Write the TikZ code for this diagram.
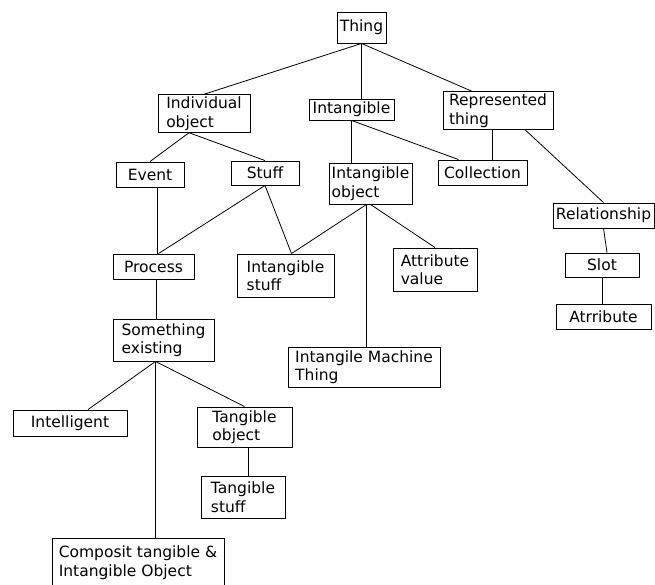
\documentclass[tikz,border=0pt]{standalone}
\usepackage{fontspec}
\setmainfont{DejaVu Sans}
\usetikzlibrary{calc,shapes,arrows}

\begin{document}
\begin{tikzpicture}[x=1pt,y=-1pt,
        box/.style={draw, rectangle, line width=0.9pt, inner sep=2pt, align=left,
            font=\fontsize{15.5}{18.5}\selectfont},
        link/.style={line width=0.8pt}]
        \useasboundingbox (0,0) rectangle (655,584);

        % top levels
        \node[box, minimum width=49pt,  minimum height=31pt] (thing)  at (361.5,27.5) {Thing};
        \node[box, minimum width=92pt,  minimum height=37pt] (indiv)  at (204,113.5)  {Individual\\object};
        \node[box, minimum width=85pt,  minimum height=21pt] (intang) at (351.5,109.5) {Intangible};
        \node[box, minimum width=110pt, minimum height=35pt] (repr)   at (498,110.5)  {Represented\\thing};
        \node[box, minimum width=68pt,  minimum height=25pt] (event)  at (150,174.5)  {Event};
        \node[box, minimum width=68pt,  minimum height=24pt] (stuff)  at (265,173)    {Stuff};
        \node[box, minimum width=83pt,  minimum height=41pt] (intobj) at (370.5,183.5) {Intangible\\object};
        \node[box, minimum width=89pt,  minimum height=25pt] (coll)   at (482.5,172.5) {Collection};
        \node[box, minimum width=101pt, minimum height=25pt] (relat)  at (603.5,215.5) {Relationship};

        % middle
        \node[box, minimum width=81pt,  minimum height=25pt] (process)  at (153.5,266.5) {Process};
        \node[box, minimum width=97pt,  minimum height=43pt] (intstuff) at (285.5,275.5) {Intangible\\stuff};
        \node[box, minimum width=84pt,  minimum height=43pt] (attval)   at (435,269.5)   {Attribute\\value};
        \node[box, minimum width=74pt,  minimum height=24pt] (slot)     at (602,265)     {Slot};
        \node[box, minimum width=95pt,  minimum height=25pt] (attr)     at (603.5,316.5) {Atrribute};
        \node[box, minimum width=101pt, minimum height=42pt] (something) at (163.5,340)  {Something\\existing};
        \node[box, minimum width=152pt, minimum height=40pt] (machine)  at (364,367)     {Intangile Machine\\Thing};

        % bottom
        \node[box, minimum width=114pt, minimum height=26pt] (intel)     at (70,423)   {Intelligent};
        \node[box, minimum width=95pt,  minimum height=40pt] (tangobj)   at (244.5,427) {Tangible\\object};
        \node[box, minimum width=84pt,  minimum height=42pt] (tangstuff) at (243,497)  {Tangible\\stuff};
        \node[box, minimum width=172pt, minimum height=49pt, anchor=north] (composit) at (138,538)
            {Composit tangible \&\\Intangible Object};

        % links
        \draw[link] (thing.south) -- (indiv.north);
        \draw[link] (thing.south) -- (thing.south |- intang.north);
        \draw[link] (thing.south) -- ([xshift=-26pt]repr.north);
        \draw[link] ([xshift=-15pt]indiv.south) -- (event.north);
        \draw[link] ([xshift=-15pt]indiv.south) -- (stuff.north);
        \draw[link] (intang.south) -- (intang.south |- intobj.north);
        \draw[link] (intang.south) -- ([xshift=-24pt]coll.north);
        \draw[link] ([xshift=-6pt]repr.south) -- ([xshift=-6pt]repr.south |- coll.north);
        \draw[link] ([xshift=27pt]repr.south) -- (relat.north);
        \draw[link] ([xshift=7pt]event.south) -- ([xshift=7pt]event.south |- process.north);
        \draw[link] (stuff.south) -- ([xshift=5pt]process.north);
        \draw[link] (stuff.south) -- ([xshift=6pt]intstuff.north);
        \draw[link] ([xshift=-4pt]intobj.south) -- ([xshift=6pt]intstuff.north);
        \draw[link] (intobj.south) -- (attval.north);
        \draw[link] ([xshift=-4pt]intobj.south) -- ([xshift=-4pt]intobj.south |- machine.north);
        \draw[link] (relat.south) -- ([xshift=5pt]slot.north);
        \draw[link] (slot.south) -- (slot.south |- attr.north);
        \draw[link] ([xshift=3pt]process.south) -- ([xshift=3pt]process.south |- something.north);
        \draw[link] ([xshift=-8pt]something.south) -- ([xshift=18pt]intel.north);
        \draw[link] ([xshift=-8pt]something.south) -- (tangobj.north);
        \draw[link] ([xshift=-8pt]something.south) -- ([xshift=-8pt]something.south |- composit.north);
        \draw[link] ([xshift=4pt]tangobj.south) -- ([xshift=4pt]tangobj.south |- tangstuff.north);
    \end{tikzpicture}
\end{document}
